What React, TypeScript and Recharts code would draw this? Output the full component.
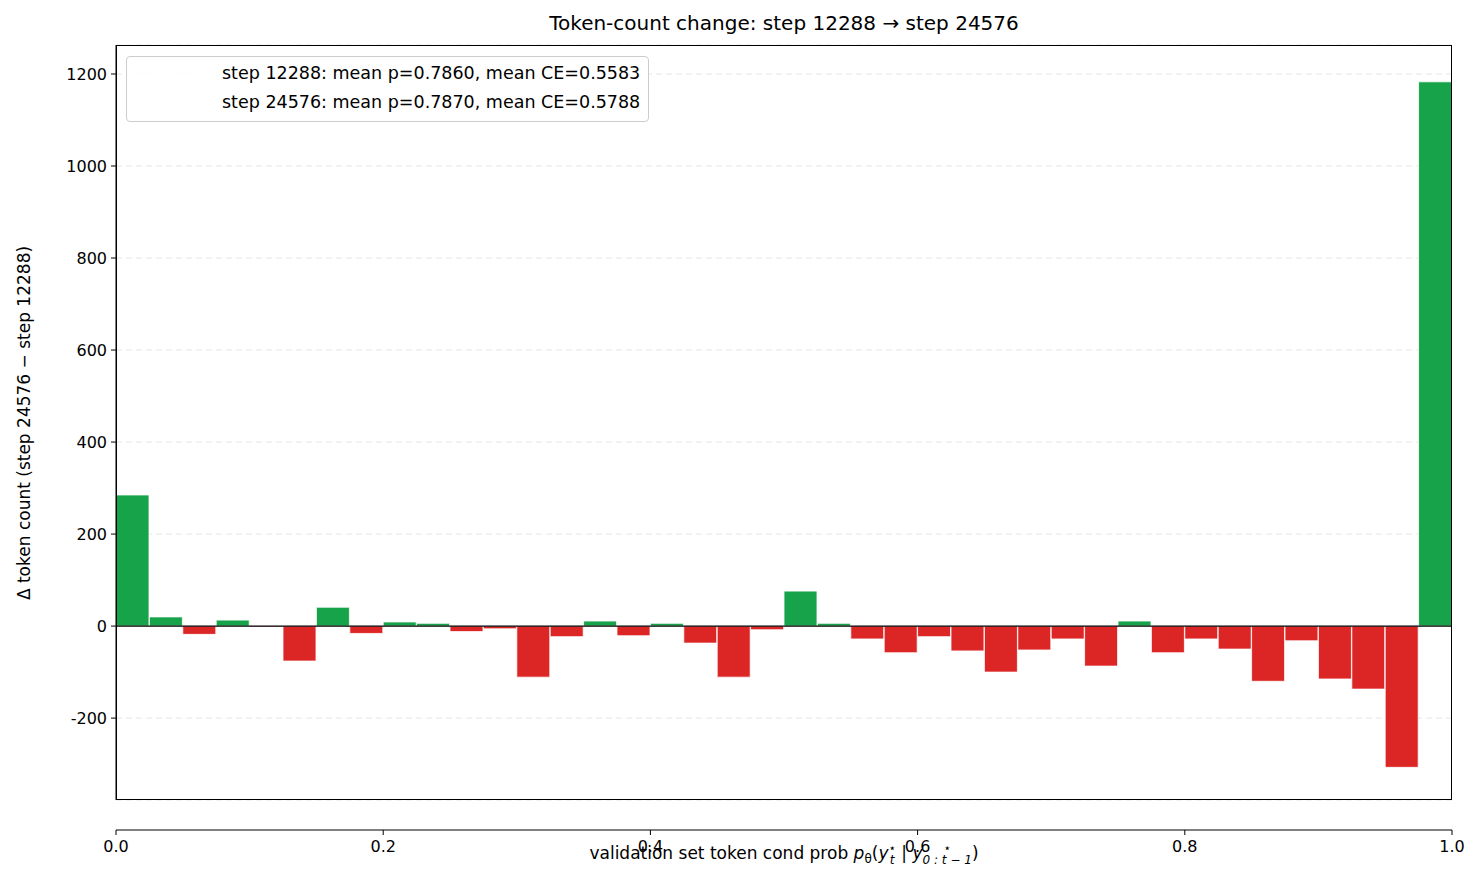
import { BarChart, Bar, XAxis, YAxis, CartesianGrid, ReferenceLine, Cell } from "recharts";

const binStarts = Array.from({ length: 40 }, (_, i) => i / 40);
const deltas = [
  285, 20, -18, 13, -2, -76, 41, -16, 9, 6,
  -12, -6, -111, -23, 11, -21, 6, -37, -111, -8,
  76, 6, -28, -58, -23, -54, -100, -52, -28, -87,
  11, -58, -28, -50, -120, -32, -115, -137, -307, 1183,
];
const xTicks = [0, 0.2, 0.4, 0.6, 0.8, 1.0];
const yTicks = [-200, 0, 200, 400, 600, 800, 1000, 1200];
const legendLines = [
  "step 12288: mean p=0.7860, mean CE=0.5583",
  "step 24576: mean p=0.7870, mean CE=0.5788",
];

const data = binStarts.map((s, i) => ({ bin: i, x: s + 0.0125, delta: deltas[i] }));
const font = "DejaVu Sans, sans-serif";

export default function App() {
  return (
    <div style={{ position: "absolute", left: 0, top: 0, width: 1484, height: 885, background: "#fff", fontFamily: font, color: "#000" }}>
      <BarChart width={1484} height={885} data={data} barCategoryGap={0}
        margin={{ top: 45, right: 32, bottom: 50, left: 36 }}>
        <CartesianGrid yAxisId="y" xAxisId="cat" horizontal vertical={false} strokeDasharray="6 4" stroke="#e6e6e6" />
        <XAxis xAxisId="cat" dataKey="bin" hide />
        <XAxis xAxisId="num" dataKey="x" type="number" domain={[0, 1]} ticks={xTicks} allowDataOverflow
          tickFormatter={(v: number) => v.toFixed(1)} stroke="#000" tickSize={5} tickMargin={6}
          tick={{ fill: "#000", fontSize: 16, fontFamily: font }} height={35} />
        <YAxis yAxisId="y" type="number" domain={[-378, 1263]} ticks={yTicks} allowDataOverflow stroke="#000" tickSize={5} tickMargin={4}
          tick={{ fill: "#000", fontSize: 16, fontFamily: font }} width={80} />
        <Bar xAxisId="cat" yAxisId="y" dataKey="delta" isAnimationActive={false} stroke="#fff" strokeWidth={0.8}>
          {data.map((d) => (
            <Cell key={d.bin} fill={d.delta >= 0 ? "#17a34a" : "#dc2626"} />
          ))}
        </Bar>
        <ReferenceLine xAxisId="cat" yAxisId="y" y={0} stroke="#000" strokeWidth={1.2} />
      </BarChart>
      <div style={{ position: "absolute", left: 116, top: 45, width: 1336, height: 755, border: "1px solid #000", boxSizing: "border-box", pointerEvents: "none" }} />
      <div style={{ position: "absolute", left: 116, width: 1336, top: 11, textAlign: "center", fontSize: 20 }}>
        Token-count change: step 12288 → step 24576
      </div>
      <div style={{ position: "absolute", left: 126, top: 56, border: "1px solid #ccc", borderRadius: 4, padding: "2px 8px 4px 95px", fontSize: 17.5, lineHeight: "29px", background: "rgba(255,255,255,0.8)", whiteSpace: "nowrap" }}>
        {legendLines.map((l) => <div key={l}>{l}</div>)}
      </div>
      <div style={{ position: "absolute", left: 24, top: 423, transform: "translate(-50%,-50%) rotate(-90deg)", whiteSpace: "nowrap", fontSize: 17 }}>
        Δ token count (step 24576 − step 12288)
      </div>
      <div style={{ position: "absolute", left: 116, width: 1336, top: 842, textAlign: "center", fontSize: 17, whiteSpace: "nowrap" }}>
        validation set token cond prob <i>p</i><sub style={{ fontSize: 12 }}>θ</sub>(<i>y</i>
        <span style={{ display: "inline-flex", flexDirection: "column", verticalAlign: "middle", fontSize: 12, lineHeight: "12px" }}><span>⋆</span><i>t</i></span>
        {" | "}<i>y</i>
        <span style={{ display: "inline-flex", flexDirection: "column", verticalAlign: "middle", fontSize: 12, lineHeight: "12px" }}><span>⋆</span><i>0 : t − 1</i></span>)
      </div>
    </div>
  );
}
